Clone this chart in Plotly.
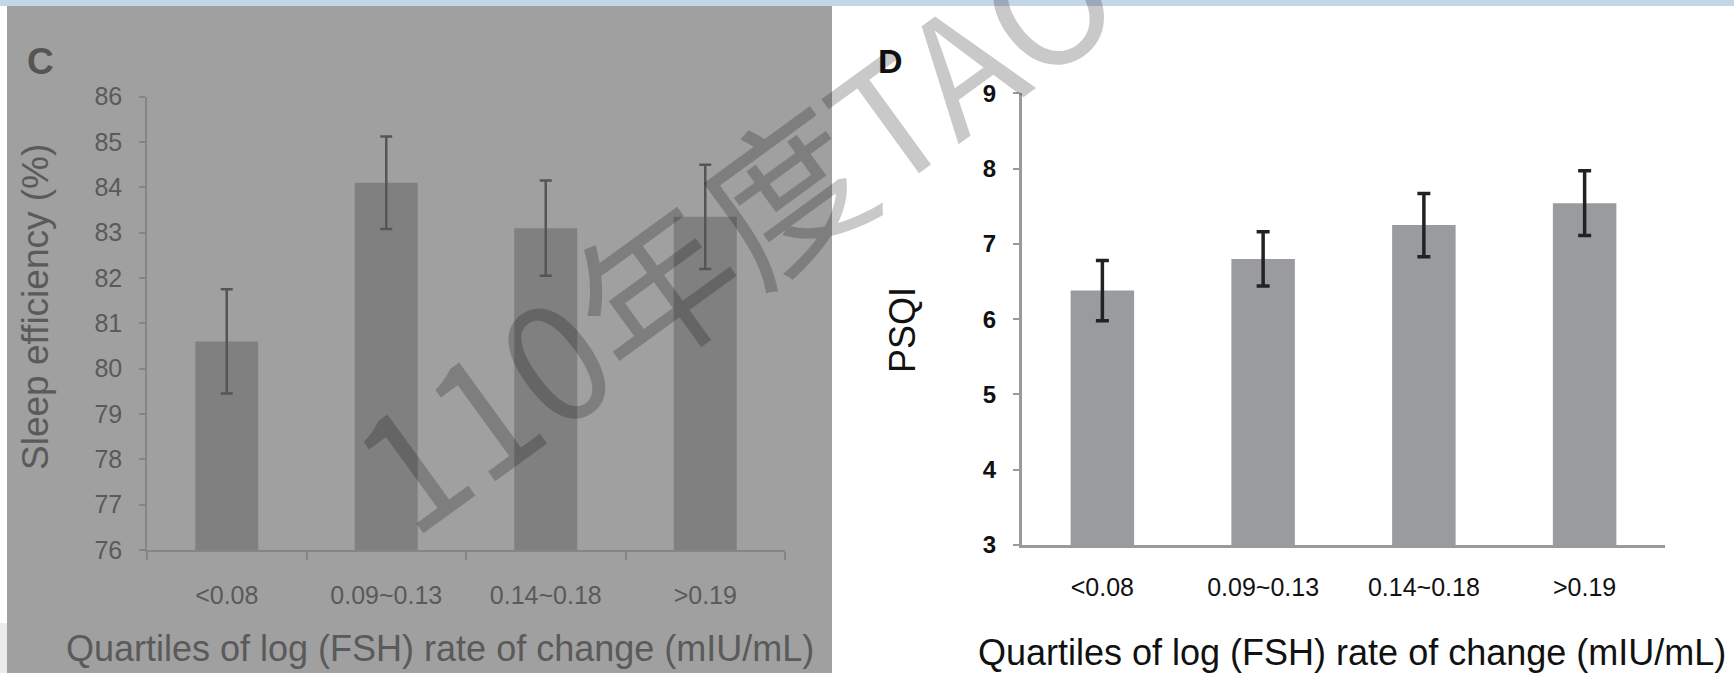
import plotly.graph_objects as go

# ---- data ----
categories = ["<0.08", "0.09~0.13", "0.14~0.18", ">0.19"]
sleep_eff_mean = [80.6, 84.1, 83.1, 83.35]
sleep_eff_err = [1.15, 1.02, 1.05, 1.15]
psqi_mean = [6.38, 6.80, 7.25, 7.54]
psqi_err = [0.40, 0.36, 0.42, 0.43]
sleep_ticks = [76, 77, 78, 79, 80, 81, 82, 83, 84, 85, 86]
psqi_ticks = [3, 4, 5, 6, 7, 8, 9]

W, H = 1734, 673


def px(x):
    return x / W


def py(y):
    return 1 - y / H


FONT = "Liberation Sans, Arial, Helvetica, sans-serif"
C_TXT = "#5a5a5a"

fig = go.Figure()

fig.add_trace(go.Bar(
    x=categories, y=sleep_eff_mean, width=0.395,
    marker=dict(color="#808080", line=dict(width=0)),
    error_y=dict(type="data", array=sleep_eff_err, color="#555555", thickness=2.5, width=6),
    xaxis="x", yaxis="y", showlegend=False,
))
fig.add_trace(go.Bar(
    x=categories, y=psqi_mean, width=0.395,
    marker=dict(color="#9a9b9f", line=dict(width=0)),
    error_y=dict(type="data", array=psqi_err, color="#222222", thickness=3.5, width=6.5),
    xaxis="x2", yaxis="y2", showlegend=False,
))

fig.update_layout(
    width=W, height=H,
    margin=dict(l=0, r=0, t=0, b=0),
    paper_bgcolor="white",
    plot_bgcolor="rgba(0,0,0,0)",
    font=dict(family=FONT),
    xaxis=dict(
        domain=[px(147), px(785)], anchor="y", range=[-0.5, 3.5],
        showline=True, linecolor="#858585", linewidth=1.5,
        ticks="outside", tickson="boundaries", ticklen=8, tickcolor="#858585", tickwidth=1.5,
        tickfont=dict(size=25, color=C_TXT), ticklabelstandoff=22,
        showgrid=False, zeroline=False, automargin=False,
    ),
    yaxis=dict(
        domain=[py(550), py(96.7)], anchor="x", range=[76, 86],
        tickvals=sleep_ticks,
        showline=True, linecolor="#858585", linewidth=1.5,
        ticks="outside", ticklen=6, tickcolor="#858585", tickwidth=1.5,
        tickfont=dict(size=25, color=C_TXT), ticklabelstandoff=12,
        showgrid=False, zeroline=False, automargin=False,
    ),
    xaxis2=dict(
        domain=[px(1022), px(1665)], anchor="y2", range=[-0.5, 3.5],
        showline=True, linecolor="#9a9a9a", linewidth=3,
        ticks="",
        tickfont=dict(size=25, color="#111111"), ticklabelstandoff=18,
        showgrid=False, zeroline=False, automargin=False,
    ),
    yaxis2=dict(
        domain=[py(545), py(93.3)], anchor="x2", range=[3, 9],
        tickvals=psqi_ticks, ticktext=["<b>%d</b>" % t for t in psqi_ticks],
        showline=True, linecolor="#9a9a9a", linewidth=3,
        ticks="outside", ticklen=6, tickcolor="#9a9a9a", tickwidth=2,
        tickfont=dict(size=24, color="#111111"), ticklabelstandoff=12,
        showgrid=False, zeroline=False, automargin=False,
    ),
)

# background panels
shapes = [
    dict(type="rect", xref="paper", yref="paper", x0=px(7), x1=px(832), y0=py(673), y1=py(6),
         fillcolor="#a0a0a0", line=dict(width=0), layer="below"),
    dict(type="rect", xref="paper", yref="paper", x0=0, x1=px(7), y0=py(673), y1=py(623),
         fillcolor="#ebebeb", line=dict(width=0), layer="below"),
    dict(type="rect", xref="paper", yref="paper", x0=0, x1=1, y0=py(6), y1=1,
         fillcolor="#c5d6e8", line=dict(width=0), layer="below"),
]
fig.update_layout(shapes=shapes)

ann = []
# panel letters
ann.append(dict(text="<b>C</b>", x=px(40), y=py(61), xref="paper", yref="paper",
                showarrow=False, font=dict(size=37, color="#555555"), xanchor="center", yanchor="middle"))
ann.append(dict(text="<b>D</b>", x=px(890), y=py(61), xref="paper", yref="paper",
                showarrow=False, font=dict(size=34, color="#111111"), xanchor="center", yanchor="middle"))
# axis titles
ann.append(dict(text="Sleep efficiency (%)", x=px(36), y=py(307), xref="paper", yref="paper",
                showarrow=False, textangle=-90, font=dict(size=37, color=C_TXT),
                xanchor="center", yanchor="middle"))
ann.append(dict(text="Quartiles of log (FSH) rate of change (mIU/mL)", x=px(440), y=py(648),
                xref="paper", yref="paper", showarrow=False, font=dict(size=36, color=C_TXT),
                xanchor="center", yanchor="middle"))
ann.append(dict(text="PSQI", x=px(902), y=py(330), xref="paper", yref="paper",
                showarrow=False, textangle=-90, font=dict(size=36, color="#111111"),
                xanchor="center", yanchor="middle"))
ann.append(dict(text="Quartiles of log (FSH) rate of change (mIU/mL)", x=px(1352), y=py(652),
                xref="paper", yref="paper", showarrow=False, font=dict(size=36, color="#111111"),
                xanchor="center", yanchor="middle"))
# watermark
ann.append(dict(text="110年度TAO", x=px(730), y=py(224), xref="paper", yref="paper",
                showarrow=False, textangle=-36,
                font=dict(size=160, color="rgba(0,0,0,0.21)",
                          family="Noto Sans CJK TC, Noto Sans, sans-serif"),
                xanchor="center", yanchor="middle"))
fig.update_layout(annotations=ann)

fig.write_html(
    "out.html",
    config={"displayModeBar": False},
    post_script="document.body.style.margin='0';document.body.style.padding='0';"
                "document.body.style.overflow='hidden';",
)
